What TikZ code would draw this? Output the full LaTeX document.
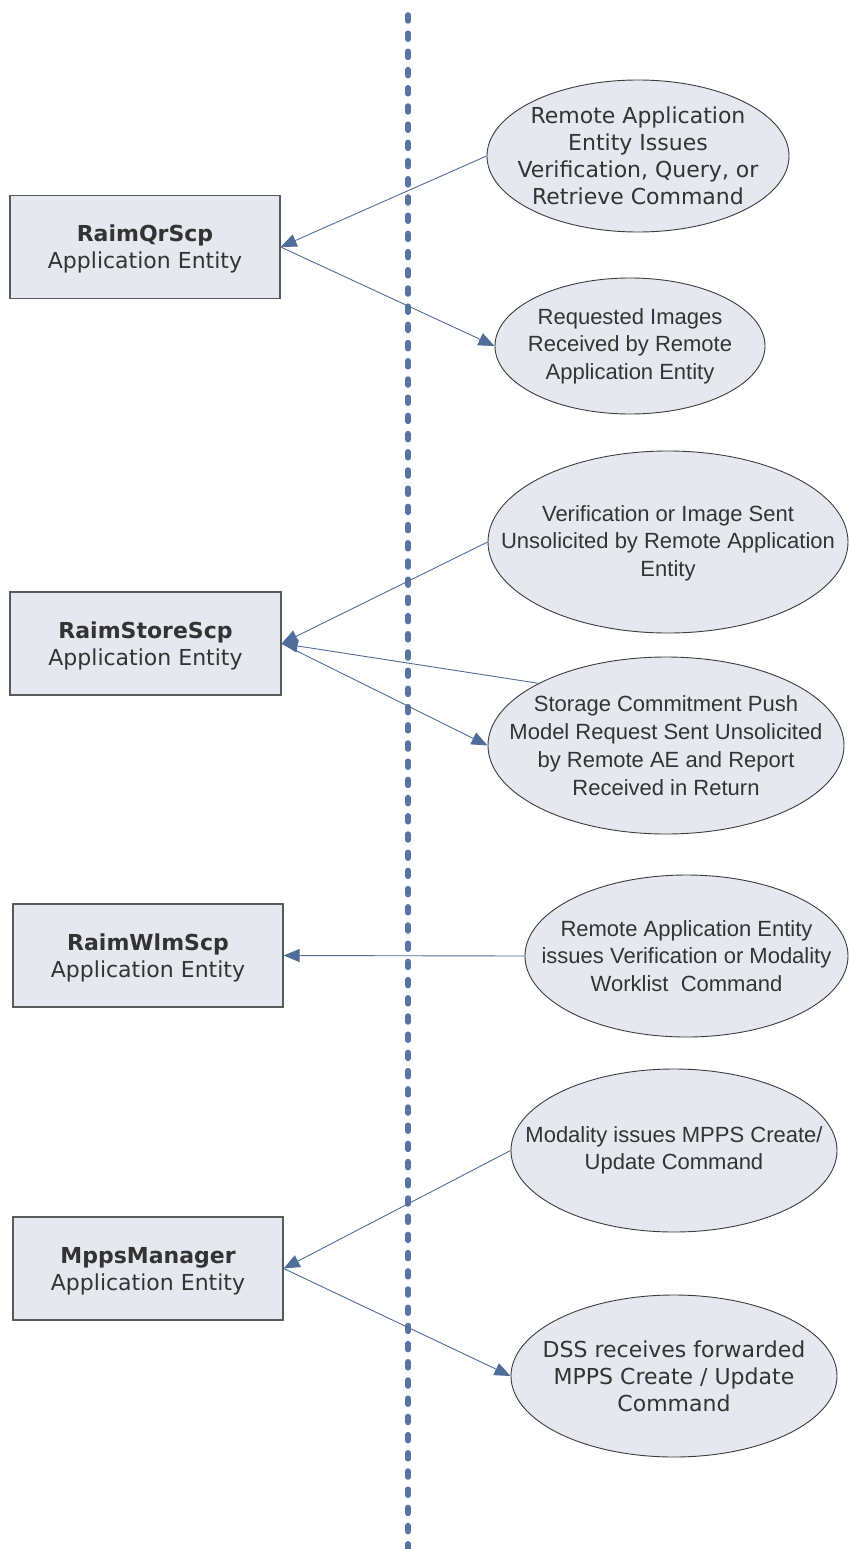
\documentclass[tikz,border=0pt]{standalone}
\usepackage{fontspec}
\setmainfont{DejaVu Sans}
\newfontfamily\arialf{Liberation Sans}
\usetikzlibrary{shapes.geometric,arrows.meta}
\definecolor{fillc}{RGB}{229,232,239}
\definecolor{linec}{RGB}{79,109,153}
\definecolor{dashc}{RGB}{88,116,160}
\definecolor{txtc}{RGB}{51,51,51}
\definecolor{boxb}{RGB}{90,90,90}
\definecolor{ellb}{RGB}{60,60,60}
\begin{document}
\begin{tikzpicture}[x=1bp,y=-1bp,
  aebox/.style={draw=boxb, line width=1.3bp, fill=fillc, minimum width=270bp, minimum height=103bp, inner sep=0pt, align=center, text=txtc, font=\fontsize{22bp}{27bp}\selectfont},
  oval/.style={ellipse, draw=ellb, line width=0.9bp, fill=fillc, inner sep=0pt},
  vtext/.style={align=center, text=txtc, font=\fontsize{22bp}{27bp}\selectfont, inner sep=0pt},
  atext/.style={align=center, text=txtc, font=\arialf\fontsize{22bp}{27.5bp}\selectfont, inner sep=0pt},
  conn/.style={draw=linec, line width=0.9bp, -{Triangle[length=16bp,width=13bp]}},
  sepline/.style={draw=dashc, line width=5.5bp, line cap=round, dash pattern=on 6bp off 12.2bp}]
\useasboundingbox (0,0) rectangle (848,1549);
\fill[white] (0,0) rectangle (848,1549);

% separator
\coordinate (sTop) at (408,15);
\coordinate (sBot) at (408,1556);
\draw[sepline] (sTop) -- (sBot);

% boxes
\node[aebox] (B1) at (145,247) {\rule{0pt}{21bp}{\bfseries RaimQrScp}\\Application Entity};
\node[aebox, minimum width=271bp] (B2) at (145.5,643.5) {\rule{0pt}{21bp}{\bfseries RaimStoreScp}\\Application Entity};
\node[aebox] (B3) at (148,955.5) {\rule{0pt}{21bp}{\bfseries RaimWlmScp}\\Application Entity};
\node[aebox] (B4) at (148,1268.5) {\rule{0pt}{21bp}{\bfseries MppsManager}\\Application Entity};

% ellipses
\node[oval, minimum width=302bp, minimum height=152bp] (E1) at (638,156) {};
\node[vtext] (T1) at (E1) {Remote Application\\Entity Issues\\Verification, Query, or\\Retrieve Command};

\node[oval, minimum width=270bp, minimum height=136bp] (E2) at (630,346) {};
\node[atext] (T2) at (E2) {Requested Images\\Received by Remote\\Application Entity};

\node[oval, minimum width=360bp, minimum height=182bp] (E3) at (668,542) {};
\node[atext] (T3) at ([yshift=-1bp]E3) {Verification or Image Sent\\Unsolicited by Remote Application\\Entity};

\node[oval, minimum width=356bp, minimum height=177bp] (E4) at (666,745.5) {};
\node[atext, font=\arialf\fontsize{22bp}{28bp}\selectfont] (T4) at (E4) {Storage Commitment Push\\Model Request Sent Unsolicited\\by Remote AE and Report\\Received in Return};

\node[oval, minimum width=323bp, minimum height=162bp] (E5) at (686.5,956) {};
\node[atext] (T5) at (E5) {Remote Application Entity\\issues Verification or Modality\\Worklist\ \ Command};

\node[oval, minimum width=326bp, minimum height=163bp] (E6) at (674,1150.5) {};
\node[atext] (T6) at (E6) {Modality issues MPPS Create/\\Update Command};

\node[oval, minimum width=326bp, minimum height=162bp] (E7) at (674,1376) {};
\node[vtext] (T7) at (E7) {DSS receives forwarded\\MPPS Create / Update\\Command};

% connectors
\draw[conn] (E1.west) -- (B1.east);
\draw[conn] (B1.east) -- (E2.west);
\draw[conn] (E3.west) -- (B2.east);
\draw[conn] (E4.154) -- (B2.east);
\draw[conn] (B2.east) -- (E4.west);
\draw[conn] (E5.west) -- (B3.east);
\draw[conn] (E6.west) -- (B4.east);
\draw[conn] (B4.east) -- (E7.west);
\end{tikzpicture}
\end{document}
